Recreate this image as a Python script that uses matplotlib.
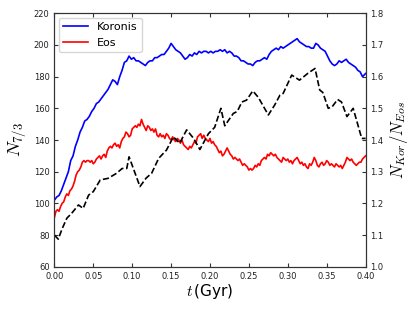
import matplotlib
matplotlib.use("Agg")
import matplotlib.pyplot as plt

plt.rcParams["mathtext.fontset"] = "cm"

kor_t = [0.000, 0.003, 0.006, 0.009, 0.012, 0.015, 0.018, 0.021, 0.024, 0.027, 0.030, 0.033, 0.036, 0.039,
         0.042, 0.045, 0.048, 0.051, 0.054, 0.057, 0.060, 0.063, 0.066, 0.069, 0.072, 0.075, 0.078, 0.081,
         0.084, 0.087, 0.090, 0.093, 0.096, 0.099, 0.102, 0.105, 0.108, 0.111, 0.114, 0.117, 0.120, 0.123,
         0.126, 0.129, 0.132, 0.135, 0.138, 0.141, 0.144, 0.147, 0.150, 0.153, 0.156, 0.159, 0.162, 0.165,
         0.168, 0.171, 0.174, 0.177, 0.180, 0.183, 0.186, 0.189, 0.192, 0.195, 0.198, 0.201, 0.204, 0.207,
         0.210, 0.213, 0.216, 0.219, 0.222, 0.225, 0.228, 0.231, 0.234, 0.237, 0.240, 0.243, 0.246, 0.249,
         0.252, 0.255, 0.258, 0.261, 0.264, 0.267, 0.270, 0.273, 0.276, 0.279, 0.282, 0.285, 0.288, 0.291,
         0.294, 0.297, 0.300, 0.303, 0.306, 0.309, 0.312, 0.315, 0.318, 0.321, 0.324, 0.327, 0.330, 0.333,
         0.336, 0.339, 0.342, 0.345, 0.348, 0.351, 0.354, 0.357, 0.360, 0.363, 0.366, 0.369, 0.372, 0.375,
         0.378, 0.381, 0.384, 0.387, 0.390, 0.393, 0.396, 0.398, 0.400]
kor_n = [102, 104, 105, 108, 112, 116, 120, 127, 130, 136, 140, 145, 148, 152,
         153, 155, 158, 160, 163, 164, 166, 168, 170, 172, 175, 178, 177, 175,
         180, 184, 189, 190, 193, 191, 192, 190, 190, 189, 188, 187, 189, 190,
         190, 192, 192, 193, 194, 194, 196, 198, 201, 199, 197, 196, 195, 193,
         191, 192, 194, 193, 195, 194, 196, 195, 196, 196, 195, 196, 195, 196,
         196, 197, 196, 197, 195, 196, 195, 193, 193, 192, 190, 190, 189, 188,
         188, 187, 189, 190, 190, 191, 192, 191, 194, 196, 197, 198, 197, 199,
         198, 199, 200, 201, 202, 203, 204, 202, 201, 200, 199, 199, 198, 198,
         201, 200, 198, 197, 196, 193, 190, 188, 187, 188, 190, 189, 190, 191,
         189, 188, 187, 186, 184, 183, 180, 181, 182]

eos_t = [round(0.002 * i, 3) for i in range(201)]
eos_n = [91, 95, 96, 95, 98, 100, 101, 104, 106, 105, 108, 109, 111, 114, 118, 120, 121, 123, 126, 127,
         126, 127, 127, 126, 127, 125, 126, 128, 129, 130, 128, 130, 131, 129, 133, 135, 136, 135, 137, 138,
         136, 137, 135, 139, 141, 142, 145, 144, 142, 143, 147, 148, 149, 148, 150, 149, 153, 150, 148, 146,
         149, 148, 146, 147, 145, 147, 143, 142, 144, 142, 143, 141, 144, 143, 141, 140, 142, 140, 139, 141,
         140, 138, 140, 137, 136, 135, 134, 136, 135, 137, 139, 138, 142, 143, 144, 141, 143, 141, 140, 139,
         141, 138, 139, 137, 136, 134, 132, 133, 130, 131, 133, 135, 133, 131, 130, 128, 129, 128, 127, 128,
         126, 124, 125, 124, 123, 121, 122, 121, 122, 124, 123, 125, 124, 127, 128, 129, 128, 131, 130, 132,
         131, 130, 131, 129, 128, 127, 126, 129, 128, 127, 128, 126, 127, 125, 127, 128, 129, 127, 125, 126,
         124, 125, 123, 122, 125, 124, 126, 129, 127, 124, 123, 125, 126, 124, 125, 127, 126, 124, 125, 124,
         123, 125, 124, 123, 124, 122, 124, 126, 129, 128, 127, 128, 126, 125, 124, 125, 126, 126, 128, 129,
         130]

ratio_t = [0.000, 0.005, 0.010, 0.016, 0.022, 0.031, 0.037, 0.044, 0.050, 0.059, 0.069, 0.080, 0.087,
           0.093, 0.096, 0.110, 0.118, 0.125, 0.134, 0.144, 0.153, 0.161, 0.170, 0.179, 0.187, 0.198,
           0.206, 0.214, 0.219, 0.230, 0.235, 0.241, 0.247, 0.255, 0.262, 0.275, 0.283, 0.290, 0.294,
           0.305, 0.315, 0.326, 0.335, 0.341, 0.345, 0.352, 0.357, 0.364, 0.369, 0.376, 0.384, 0.395, 0.400]
ratio = [1.100, 1.087, 1.120, 1.153, 1.168, 1.195, 1.184, 1.226, 1.237, 1.274, 1.279, 1.295, 1.310,
         1.310, 1.347, 1.253, 1.280, 1.295, 1.342, 1.368, 1.410, 1.390, 1.432, 1.405, 1.370, 1.420,
         1.440, 1.500, 1.445, 1.484, 1.490, 1.520, 1.526, 1.555, 1.535, 1.479, 1.510, 1.542, 1.547,
         1.605, 1.589, 1.611, 1.626, 1.558, 1.550, 1.500, 1.505, 1.528, 1.520, 1.474, 1.500, 1.405, 1.405]

fig = plt.figure(figsize=(4.15, 3.11), dpi=100)
ax = fig.add_axes([0.131, 0.1424, 0.75, 0.8148])
ax.plot(kor_t, kor_n, color="blue", lw=1.2, label="Koronis")
ax.plot(eos_t, eos_n, color="red", lw=1.2, label="Eos")
ax.set_xlim(0, 0.4)
ax.set_ylim(60, 220)
ax.set_xticks([0, 0.05, 0.1, 0.15, 0.2, 0.25, 0.3, 0.35, 0.4])
ax.set_yticks(range(60, 221, 20))
ax.tick_params(direction="in", top=True, labelsize=6, length=3, colors="#333333", labelcolor="#222222")
ax.set_xlabel("$t\\,$(Gyr)", fontsize=11, labelpad=1)
ax.set_ylabel("$N_{7/3}$", fontsize=13, labelpad=4)
ax.legend(loc="upper left", fontsize=8, handlelength=2.2, borderaxespad=0.4)

ax2 = ax.twinx()
ax2.plot(ratio_t, ratio, color="black", ls="--", lw=1.2)
ax2.set_ylim(1.0, 1.8)
ax2.set_yticks([1.0, 1.1, 1.2, 1.3, 1.4, 1.5, 1.6, 1.7, 1.8])
ax2.tick_params(direction="in", labelsize=6, length=3, colors="#333333", labelcolor="#222222")
ax2.set_ylabel("$N_{Kor}/N_{Eos}$", fontsize=12, labelpad=3)
for a in (ax, ax2):
    for s in a.spines.values():
        s.set_color("#333333")

fig.savefig("out.png", dpi=100)
